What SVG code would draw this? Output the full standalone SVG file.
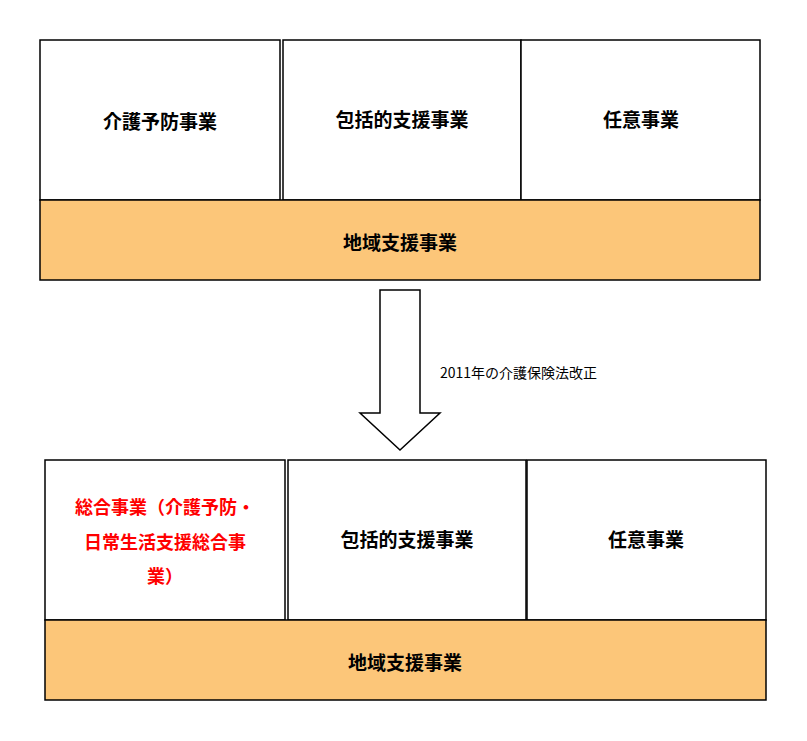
<svg xmlns="http://www.w3.org/2000/svg" width="807" height="741" viewBox="0 0 807 741">
<style>
.b{fill:#fff;stroke:#000;stroke-width:1.5}
.o{fill:#fcc679;stroke:#000;stroke-width:1.5}
text{font-family:"Noto Sans CJK JP","Liberation Sans",sans-serif;text-anchor:middle;dominant-baseline:central}
.t{font-size:19px;font-weight:bold;fill:#000}
.r{font-size:18px;font-weight:bold;fill:#f00}
</style>
<rect width="807" height="741" fill="#fff"/>
<g id="top">
<g id="t1"><rect class="b" x="40" y="40" width="240" height="160"/><text class="t" x="160" y="120">介護予防事業</text></g>
<g id="t2"><rect class="b" x="283" y="40" width="238" height="160"/><text class="t" x="402" y="118">包括的支援事業</text></g>
<g id="t3"><rect class="b" x="521" y="40" width="239" height="160"/><text class="t" x="641" y="118">任意事業</text></g>
<g id="t4"><rect class="o" x="40" y="200" width="720" height="80"/><text class="t" x="400" y="241">地域支援事業</text></g>
</g>
<g id="connectors">
<path d="M380,290 H420 V413 H440 L400,450 L360,413 H380 Z" fill="#fff" stroke="#000" stroke-width="1.5"/>
<text x="440" y="372" style="font-size:14px;text-anchor:start">2011年の介護保険法改正</text>
</g>
<g id="bottom">
<g id="b1"><rect class="b" x="45" y="460" width="240" height="160"/>
<text class="r" x="165" y="506">総合事業（介護予防・</text>
<text class="r" x="165" y="541">日常生活支援総合事</text>
<text class="r" x="165" y="575">業）</text></g>
<g id="b2"><rect class="b" x="288" y="460" width="238" height="160"/><text class="t" x="407" y="538">包括的支援事業</text></g>
<g id="b3"><rect class="b" x="527" y="460" width="239" height="160"/><text class="t" x="646" y="538">任意事業</text></g>
<g id="b4"><rect class="o" x="45" y="620" width="721" height="80"/><text class="t" x="405" y="661">地域支援事業</text></g>
</g>
</svg>
